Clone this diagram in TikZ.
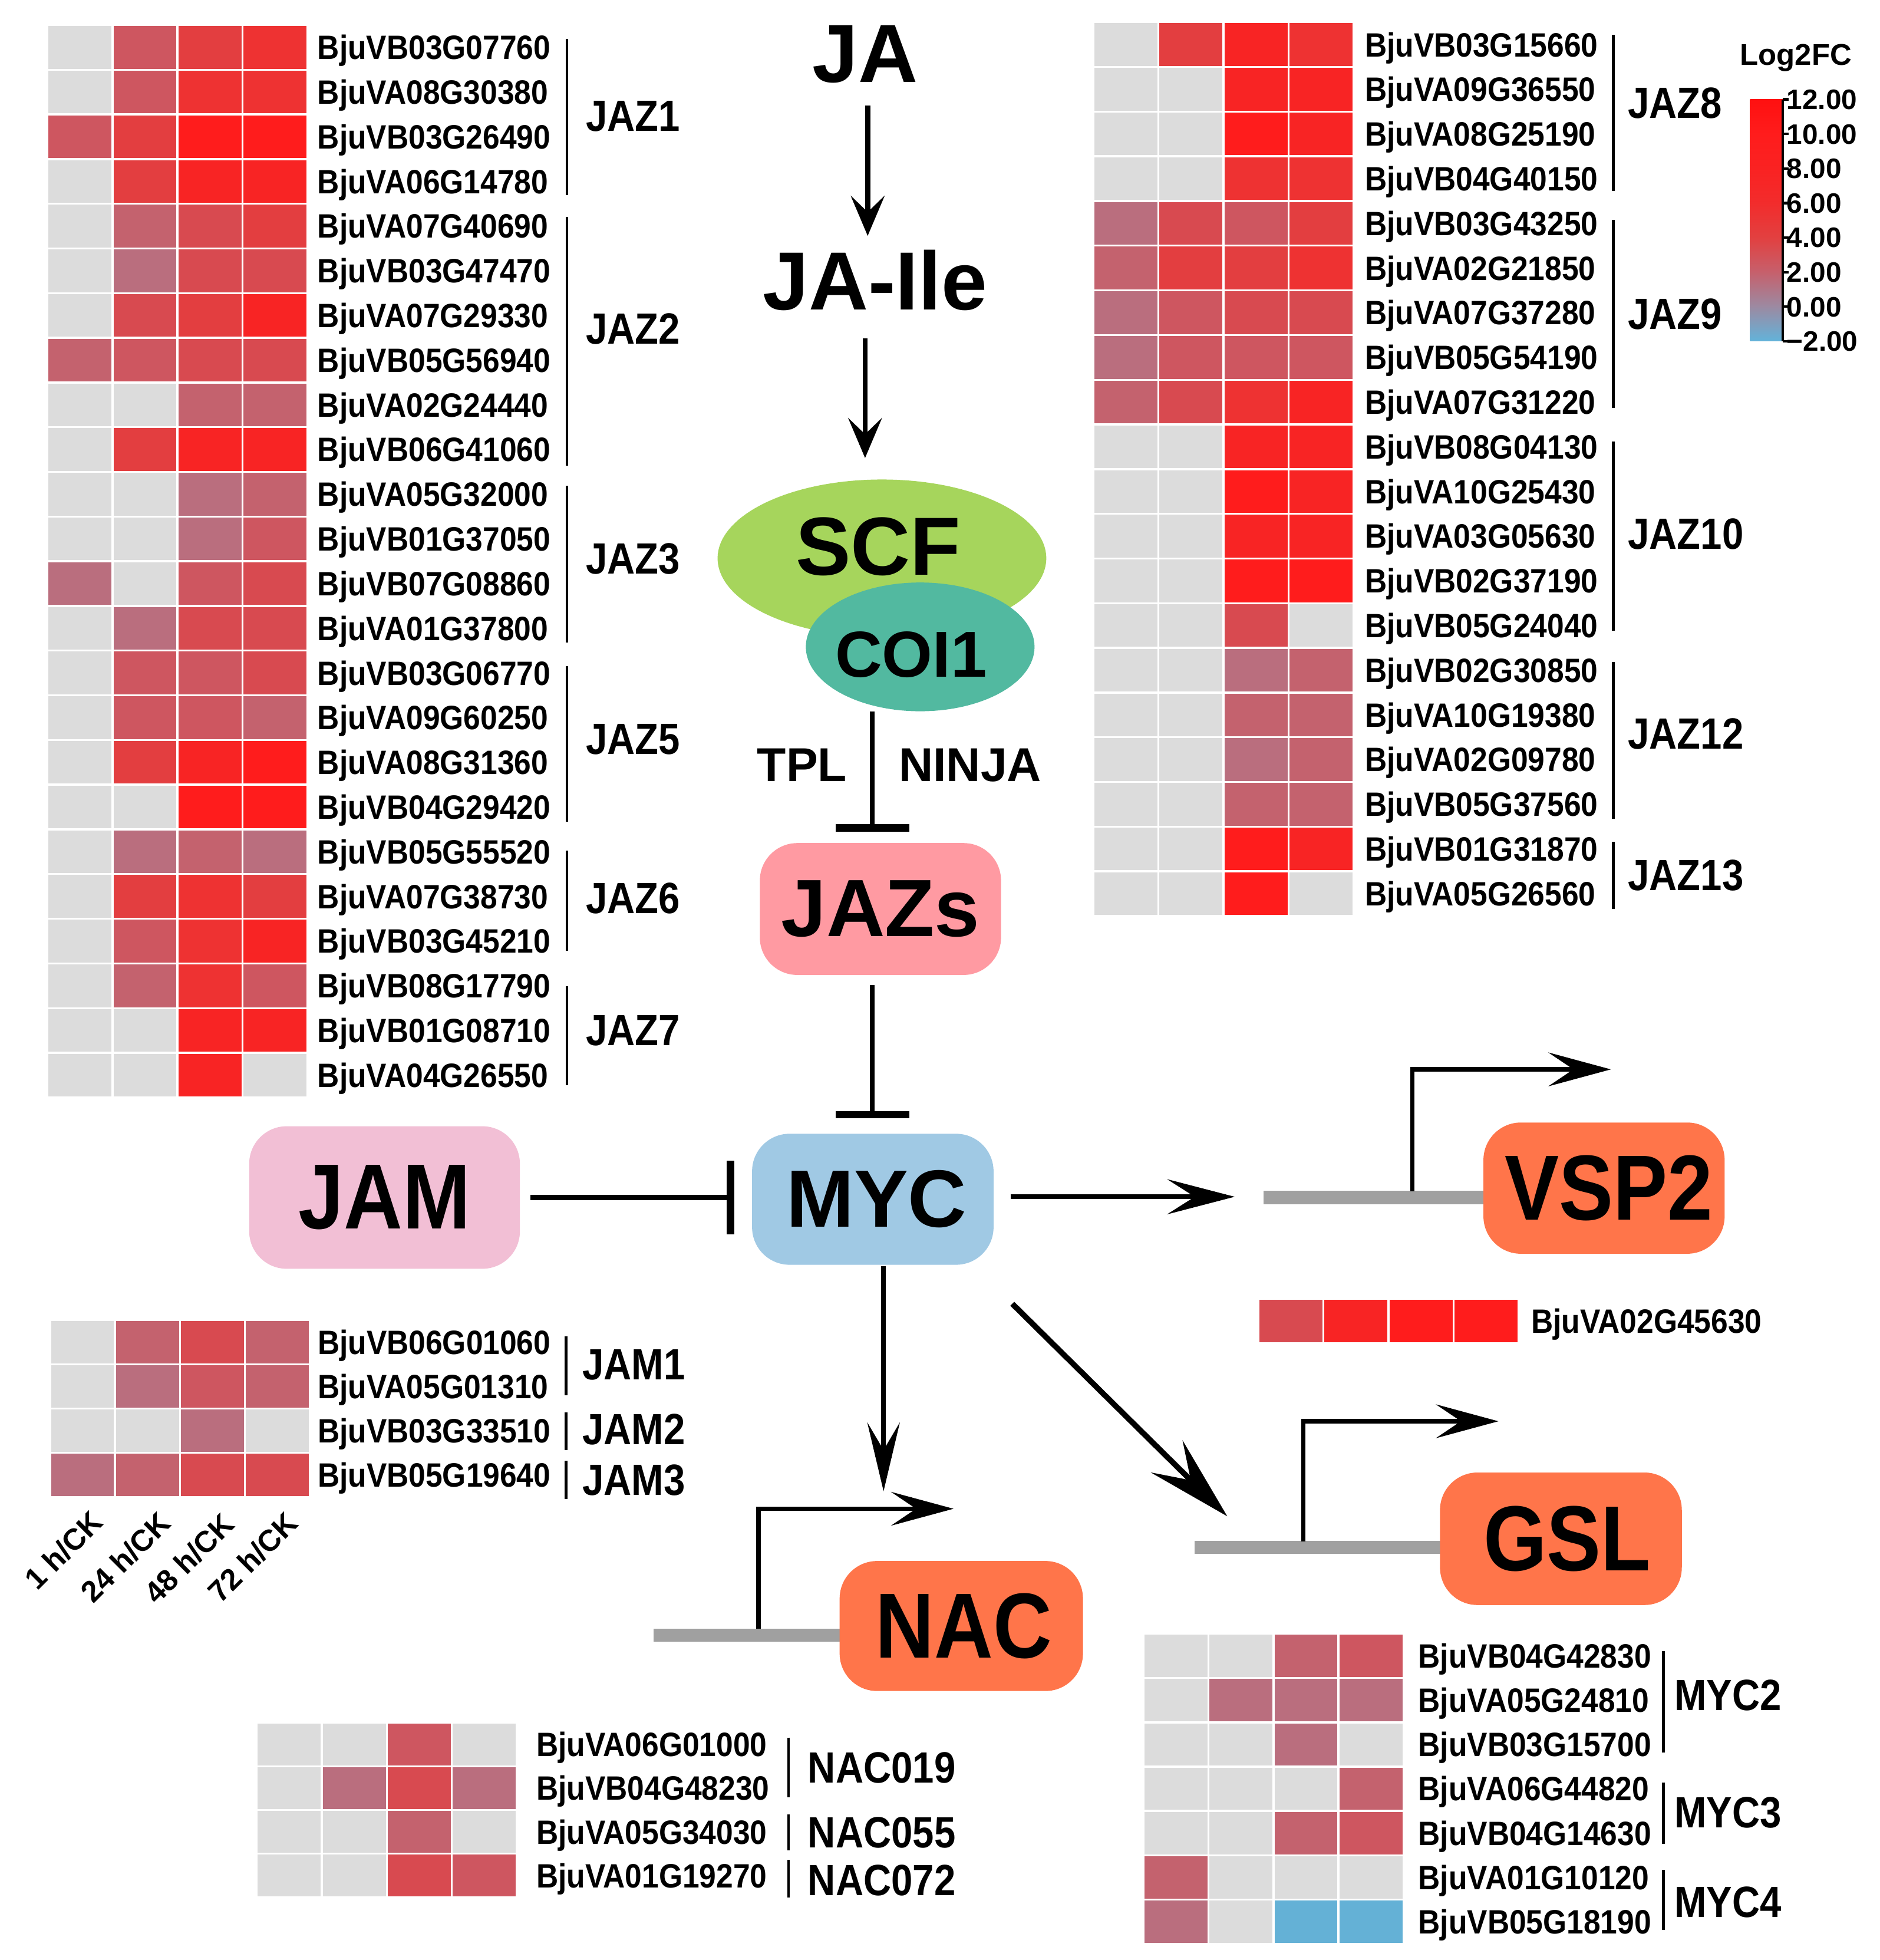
\documentclass[tikz,border=0pt]{standalone}
\usepackage{fontspec}
\setmainfont{Liberation Sans}
\newfontfamily\narrowfont[FakeStretch=0.88]{Liberation Sans}
\newfontfamily\genefont[FakeStretch=0.9]{Liberation Sans}
\usetikzlibrary{arrows.meta,shapes.geometric}
\definecolor{hm0}{HTML}{DCDCDC}
\definecolor{hm1}{HTML}{BA6E7E}
\definecolor{hm2}{HTML}{C4626E}
\definecolor{hm3}{HTML}{CE5660}
\definecolor{hm4}{HTML}{D84A50}
\definecolor{hm5}{HTML}{E33E40}
\definecolor{hm6}{HTML}{EE3232}
\definecolor{hm7}{HTML}{F82424}
\definecolor{hm8}{HTML}{FF1C1C}
\definecolor{hm9}{HTML}{64B1D6}
\definecolor{cbm2}{HTML}{62B3DA}
\definecolor{cb0}{HTML}{9C8AA2}
\definecolor{cb2}{HTML}{C6606C}
\definecolor{cb4}{HTML}{E24040}
\definecolor{cb6}{HTML}{F22C2C}
\definecolor{cb8}{HTML}{FA2222}
\definecolor{cb10}{HTML}{FF1C1C}
\definecolor{cb12}{HTML}{FF1010}
\definecolor{scfgreen}{HTML}{A6D55C}
\definecolor{coiteal}{HTML}{52B9A0}
\definecolor{jazpink}{HTML}{FF9AA2}
\definecolor{mycblue}{HTML}{A0C9E4}
\definecolor{jampink}{HTML}{F2BFD5}
\definecolor{geneorange}{HTML}{FF754A}
\definecolor{genegray}{HTML}{A0A0A0}
\pgfdeclareverticalshading{lfc}{100bp}{color(0bp)=(cbm2); color(25bp)=(cbm2); color(32.14bp)=(cb0); color(39.29bp)=(cb2); color(46.43bp)=(cb4); color(53.57bp)=(cb6); color(60.71bp)=(cb8); color(67.86bp)=(cb10); color(75bp)=(cb12); color(100bp)=(cb12)}
\newcommand\hmrows[4]{%
  \foreach \a/\b/\c/\d [count=\r from 0] in {#4}{%
    \foreach \v [count=\k from 0] in {\a,\b,\c,\d}{%
      \fill[hm\v] ({#1+52*\k+0.8},{#2+#3*\r+0.8}) rectangle ({#1+52*\k+51.2},{#2+#3*\r+#3-0.8});
    }}}
\newcommand\hmlabels[5]{%
  \foreach \g [count=\r from 0] in {#5}{%
    \node[gl] (#4\r) at (#1,{#2+#3*\r+#3/2+9.6}) {\g};}}
\tikzset{
  gl/.style={anchor=base west, inner sep=0pt, font=\genefont\fontsize{27}{29}\selectfont\bfseries},
  grp/.style={anchor=base west, inner sep=0pt, yshift=-1.4pt, font=\narrowfont\fontsize{35}{37}\selectfont\bfseries},
  brk/.style={line width=2.2pt},
  tick/.style={anchor=base west, inner sep=0pt, font=\fontsize{22.5}{24}\selectfont\bfseries},
  coll/.style={anchor=east, rotate=45, inner sep=0pt, font=\fontsize{24}{26}\selectfont\bfseries},
  bigtxt/.style={anchor=base, inner sep=0pt, font=\fontsize{66}{70}\selectfont\bfseries},
  pbox/.style={rounded corners=30pt, inner sep=0pt, font=\fontsize{65}{70}\selectfont\bfseries},
  gbox/.style={rounded corners=30pt, inner sep=0pt, font=\narrowfont\fontsize{74}{78}\selectfont\bfseries},
  arrA/.style={line width=4pt, -{Stealth[length=32pt,width=27pt,inset=13pt]}},
  arrH/.style={line width=4pt, -{Stealth[length=54pt,width=28pt,inset=22pt]}},
  arrV/.style={line width=4pt, -{Stealth[length=55pt,width=26pt,inset=22pt]}},
  arrD/.style={line width=4.5pt, -{Stealth[length=68pt,width=36pt,inset=27pt]}},
  prom/.style={line width=3.5pt, line join=miter, -{Stealth[length=50pt,width=27pt,inset=20pt]}},
  inh/.style={line width=4pt, -{Bar[width=59pt,line width=6pt]}},
  genebar/.style={line width=10.5pt, genegray}
}
\begin{document}
\begin{tikzpicture}[x=1pt,y=-1pt]
\fill[white] (0,0) rectangle (1504,1568);
\useasboundingbox (0,0) rectangle (1504,1568);

% ---------- left JAZ heatmap ----------
\hmrows{38}{20}{35.75}{0/3/5/6,0/3/6/6,3/5/8/8,0/5/7/7,0/2/4/5,0/1/4/4,0/4/5/7,2/3/4/4,0/0/2/2,0/5/7/7,0/0/1/2,0/0/1/3,1/0/3/4,0/1/4/4,0/3/3/4,0/3/3/2,0/5/7/8,0/0/8/8,0/1/2/1,0/5/6/5,0/3/6/7,0/2/6/3,0/0/7/7,0/0/7/0}
\hmlabels{253.9}{20}{35.75}{la}{BjuVB03G07760,BjuVA08G30380,BjuVB03G26490,BjuVA06G14780,BjuVA07G40690,BjuVB03G47470,BjuVA07G29330,BjuVB05G56940,BjuVA02G24440,BjuVB06G41060,BjuVA05G32000,BjuVB01G37050,BjuVB07G08860,BjuVA01G37800,BjuVB03G06770,BjuVA09G60250,BjuVA08G31360,BjuVB04G29420,BjuVB05G55520,BjuVA07G38730,BjuVB03G45210,BjuVB08G17790,BjuVB01G08710,BjuVA04G26550}
\draw[brk] (453.6,31) -- (453.6,156);
\draw[brk] (453.6,173.4) -- (453.6,372.5);
\draw[brk] (453.6,388.5) -- (453.6,513.8);
\draw[brk] (453.6,533) -- (453.6,657.5);
\draw[brk] (453.6,680.5) -- (453.6,760.8);
\draw[brk] (453.6,788.8) -- (453.6,868.4);
\node[grp] (jaz1) at (468.7,103.7) {JAZ1};
\node[grp] (jaz2) at (468.7,273.9) {JAZ2};
\node[grp] (jaz3) at (468.7,457.7) {JAZ3};
\node[grp] (jaz5) at (468.7,602.1) {JAZ5};
\node[grp] (jaz6) at (468.7,729.1) {JAZ6};
\node[grp] (jaz7) at (468.7,835.1) {JAZ7};

% ---------- right JAZ heatmap ----------
\hmrows{875}{17.8}{35.75}{0/5/7/6,0/0/7/7,0/0/8/7,0/0/6/6,1/4/3/5,2/5/5/6,1/3/4/4,1/3/3/3,2/4/6/7,0/0/7/7,0/0/8/7,0/0/7/7,0/0/8/8,0/0/4/0,0/0/1/2,0/0/2/2,0/0/1/2,0/0/2/2,0/0/8/7,0/0/8/0}
\hmlabels{1092}{17.8}{35.75}{lb}{BjuVB03G15660,BjuVA09G36550,BjuVA08G25190,BjuVB04G40150,BjuVB03G43250,BjuVA02G21850,BjuVA07G37280,BjuVB05G54190,BjuVA07G31220,BjuVB08G04130,BjuVA10G25430,BjuVA03G05630,BjuVB02G37190,BjuVB05G24040,BjuVB02G30850,BjuVA10G19380,BjuVA02G09780,BjuVB05G37560,BjuVB01G31870,BjuVA05G26560}
\draw[brk] (1291,27.9) -- (1291,152.6);
\draw[brk] (1291,175.7) -- (1291,326.2);
\draw[brk] (1291,353.4) -- (1291,504.7);
\draw[brk] (1291,529.8) -- (1291,654.9);
\draw[brk] (1291,673.5) -- (1291,727);
\node[grp] (jaz8) at (1302.5,93.1) {JAZ8};
\node[grp] (jaz9) at (1302.5,262.1) {JAZ9};
\node[grp] (jaz10) at (1302.5,437.8) {JAZ10};
\node[grp] (jaz12) at (1302.5,597.8) {JAZ12};
\node[grp] (jaz13) at (1302.5,711) {JAZ13};

% ---------- legend ----------
\node[anchor=base, inner sep=0pt, font=\fontsize{24}{26}\selectfont\bfseries] (lfc) at (1437,52) {Log2FC};
\shade[shading=lfc] (1400.4,79.5) rectangle (1426.5,273);
\draw[line width=2pt] (1426.5,79.5) -- (1426.5,273);
\foreach \t [count=\i from 0] in {12.00,10.00,8.00,6.00,4.00,2.00,0.00,−2.00}{%
  \draw[line width=2pt] (1426.5,{79.5+27.64*\i}) -- (1431,{79.5+27.64*\i});
  \node[tick] (tk\i) at (1429.5,{79.5+27.64*\i+8}) {\t};}

% ---------- JAM heatmap ----------
\hmrows{40}{1056}{35.4}{0/2/4/2,0/1/3/2,0/0/1/0,1/2/4/4}
\hmlabels{254}{1056}{35.4}{lc}{BjuVB06G01060,BjuVA05G01310,BjuVB03G33510,BjuVB05G19640}
\draw[brk] (453,1069) -- (453,1116);
\draw[brk] (453,1130) -- (453,1160);
\draw[brk] (453,1168.5) -- (453,1199);
\node[grp] (jam1) at (465.8,1102.4) {JAM1};
\node[grp] (jam2) at (465.8,1154.3) {JAM2};
\node[grp] (jam3) at (465.8,1194.6) {JAM3};
\node[coll] (col1) at (78,1213) {1 h/CK};
\node[coll] (col2) at (132,1214) {24 h/CK};
\node[coll] (col3) at (183,1215) {48 h/CK};
\node[coll] (col4) at (234,1214) {72 h/CK};

% ---------- VSP2 strip ----------
\hmrows{1007}{1039}{35.7}{4/7/8/8}
\hmlabels{1225}{1039}{35.7}{ld}{BjuVA02G45630}

% ---------- NAC heatmap ----------
\hmrows{205.5}{1378}{35}{0/0/3/0,0/1/4/1,0/0/2/0,0/0/4/3}
\hmlabels{429}{1378}{35}{le}{BjuVA06G01000,BjuVB04G48230,BjuVA05G34030,BjuVA01G19270}
\draw[brk] (631,1390) -- (631,1438);
\draw[brk] (631,1451.5) -- (631,1480.5);
\draw[brk] (631,1488) -- (631,1518);
\node[grp] (nac019) at (646.3,1425.1) {NAC019};
\node[grp] (nac055) at (646.3,1476.6) {NAC055};
\node[grp] (nac072) at (646.3,1515.1) {NAC072};

% ---------- MYC heatmap ----------
\hmrows{915}{1307}{35.43}{0/0/2/3,0/1/1/1,0/0/1/0,0/0/0/2,0/0/2/3,2/0/0/0,1/0/9/9}
\hmlabels{1134.7}{1307}{35.43}{lf}{BjuVB04G42830,BjuVA05G24810,BjuVB03G15700,BjuVA06G44820,BjuVB04G14630,BjuVA01G10120,BjuVB05G18190}
\draw[brk] (1331,1321) -- (1331,1402);
\draw[brk] (1331,1426) -- (1331,1475);
\draw[brk] (1331,1496) -- (1331,1544);
\node[grp] (myc2) at (1339.6,1367.1) {MYC2};
\node[grp] (myc3) at (1339.6,1460.7) {MYC3};
\node[grp] (myc4) at (1339.6,1532.5) {MYC4};

% ---------- pathway ----------
\node[bigtxt] (ja) at (692.3,65.8) {JA};
\node[bigtxt] (jaile) at (700.2,247.7) {JA-Ile};
\node[ellipse, fill=scfgreen, minimum width=263pt, minimum height=126pt, inner sep=0pt] (scf) at (705.7,446.6) {};
\node[bigtxt] (scft) at (702.8,460) {SCF};
\node[ellipse, fill=coiteal, minimum width=183pt, minimum height=103pt, inner sep=0pt] (coi) at (736.3,517.5) {};
\node[anchor=base, inner sep=0pt, font=\fontsize{52}{54}\selectfont\bfseries] (coit) at (729,541.5) {COI1};
\node[anchor=base, inner sep=0pt, font=\fontsize{38}{40}\selectfont\bfseries] (tpl) at (641.8,625.3) {TPL};
\node[anchor=base, inner sep=0pt, font=\fontsize{38}{40}\selectfont\bfseries] (ninja) at (776.3,625.3) {NINJA};

\node[pbox, fill=jazpink, minimum width=193pt, minimum height=105.5pt] (jazs) at (704.5,727.2) {JAZs};
\node[pbox, fill=mycblue, minimum width=193.2pt, minimum height=104.8pt] (myc) at (698.4,959.4) {\hspace*{6pt}MYC};
\node[gbox, fill=jampink, minimum width=216.6pt, minimum height=114pt] (jam) at (307.7,958) {JAM};

\draw[arrA, shorten <=18pt, shorten >=11pt] ([xshift=2pt]ja.south) -- ([xshift=2pt]ja.south |- jaile.north);
\draw[arrA, shorten <=22pt, shorten >=17pt] ([xshift=-8pt]jaile.south) -- ([xshift=-8pt]jaile.south |- scf.north);
\draw[inh, shorten >=9pt] ([xshift=-6.5pt]jazs.north |- coi.south) -- ([xshift=-6.5pt]jazs.north);
\draw[inh, shorten <=8pt, shorten >=12pt] ([xshift=-6.5pt]jazs.south) -- ([xshift=-6.5pt]jazs.south |- myc.north);
\draw[inh, shorten <=8pt, shorten >=14pt] (jam.east) -- (jam.east -| myc.west);

% VSP2
\coordinate (vbar) at (1011,958);
\coordinate (vtss) at (1130,953);
\coordinate (vend) at (1289,855.5);
\draw[genebar] (vbar) -- (1190,958);
\node[gbox, fill=geneorange, minimum width=193pt, minimum height=105pt] (vsp2) at (1283.5,950.5) {\hspace*{8pt}VSP2};
\draw[prom] (vtss) |- (vend);
\draw[arrH, shorten <=13.5pt, shorten >=23pt] ([yshift=2pt]myc.east) -- ([yshift=2pt]myc.east -| vbar);

% GSL
\coordinate (gbar) at (956,1238);
\coordinate (gtss) at (1043,1233);
\coordinate (gend) at (1199,1137);
\draw[genebar] (gbar) -- (1156,1238);
\node[gbox, fill=geneorange, minimum width=193.5pt, minimum height=106pt] (gsl) at (1249,1231) {\hspace*{10pt}GSL};
\draw[prom] (gtss) |- (gend);
\coordinate (dstart) at (810,1043);
\coordinate (dend) at (982,1213);
\draw[arrD] (dstart) -- (dend);

% NAC
\coordinate (nbar) at (523,1308);
\coordinate (ntss) at (607,1303);
\coordinate (nend) at (763,1207);
\draw[genebar] (nbar) -- (676,1308);
\node[gbox, fill=geneorange, minimum width=194.7pt, minimum height=104pt] (nac) at (769.2,1300.8) {\hspace*{4pt}NAC};
\draw[prom] (ntss) |- (nend);
\draw[arrV, shorten <=1pt, shorten >=14pt] ([xshift=8.6pt]myc.south) -- ([xshift=8.6pt]myc.south |- nend);
\end{tikzpicture}
\end{document}
